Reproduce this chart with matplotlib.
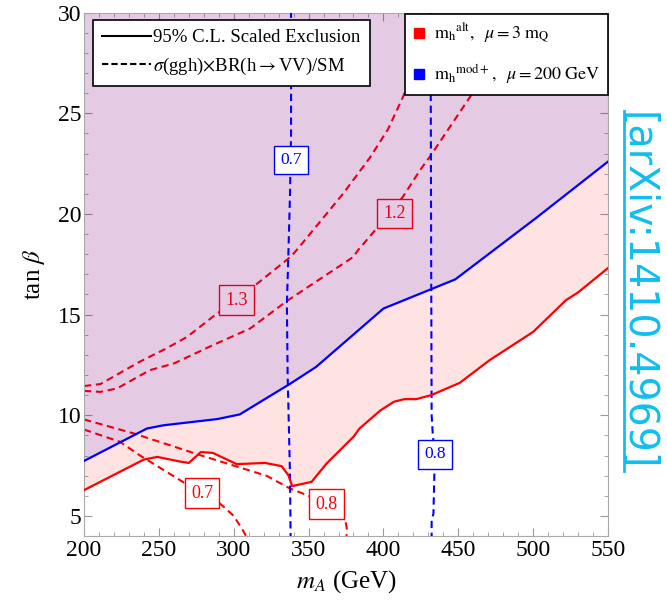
import numpy as np
import matplotlib
matplotlib.use('Agg')
import matplotlib.pyplot as plt
from matplotlib.lines import Line2D
from matplotlib.ticker import MultipleLocator

plt.rcParams['font.family'] = ['Liberation Serif', 'DejaVu Serif']
plt.rcParams['mathtext.fontset'] = 'stix'

# 95% C.L. scaled exclusion, m_h^mod+ (blue) and m_h^alt (red)
mod_excl_x = [200, 242, 253, 289, 304, 338, 355, 400, 448, 502, 550]
mod_excl_y = [7.73, 9.34, 9.5, 9.81, 10.04, 11.58, 12.4, 15.3, 16.75, 19.8, 22.6]

alt_excl_x = [200, 240, 249, 264, 270, 278, 286, 302, 321, 332, 336.5, 339, 352, 362,
              380, 384, 398, 407, 414, 422, 432, 451, 471, 500, 522, 530, 550]
alt_excl_y = [6.28, 7.8, 7.93, 7.7, 7.63, 8.17, 8.13, 7.57, 7.63, 7.47, 7.02, 6.48, 6.69, 7.6,
              8.93, 9.34, 10.24, 10.67, 10.8, 10.8, 11.0, 11.61, 12.74, 14.14, 15.72, 16.1, 17.31]

# sigma(ggh) x BR(h->VV)/SM contours, m_h^alt
alt_13_x = [200, 211, 237, 255, 269, 286, 313, 338, 342, 373, 391, 403, 413, 436]
alt_13_y = [11.45, 11.55, 12.65, 13.32, 13.9, 14.89, 16.38, 17.87, 18.2, 21.0, 22.8, 24.2, 25.8, 30.1]
alt_12_x = [200, 211, 222, 244, 260, 286, 311, 336, 380, 383, 395.5, 413, 424.5, 431, 458, 486]
alt_12_y = [11.21, 11.16, 11.33, 12.24, 12.57, 13.48, 14.31, 15.7, 17.87, 18.2, 19.28, 20.85, 22.18, 22.84, 25.83, 30.1]
alt_08_x = [200, 233, 277.5, 322, 337.6, 349, 362, 372, 374.5, 375.5, 375.3]
alt_08_y = [9.79, 9.1, 8.02, 6.99, 6.36, 6.03, 5.6, 5.1, 4.8, 4.4, 3.9]
alt_07_x = [200, 224, 237, 266, 279, 291, 300, 306, 309]
alt_07_y = [9.29, 8.68, 8.02, 6.69, 6.13, 5.6, 5.0, 4.3, 3.9]

# same contours, m_h^mod+
mod_07_x = [338.3, 338.3, 337.6, 336.5, 335.5, 336.0, 336.5, 337.6, 338.0]
mod_07_y = [30.1, 24, 21, 18, 15.5, 12, 10.5, 7, 3.9]
mod_08_x = [431.5, 431.8, 432.2, 433.0, 434.5, 434.0, 433.4, 432.2, 432.2]
mod_08_y = [30.1, 20, 10, 9, 8, 7, 5.1, 4.8, 3.9]

# contour labels: (x, y, text)
alt_labels = [(302, 15.72, '1.3'), (407.5, 20.03, '1.2'), (278.8, 6.13, '0.7'), (361.9, 5.59, '0.8')]
mod_labels = [(338.1, 22.7, '0.7'), (434.3, 8.05, '0.8')]

red = '#FF0000'
blue = '#0000FF'

fig = plt.figure(figsize=(6.67, 6.02), dpi=100)
ax = fig.add_axes([0.126, 0.1096, 0.7855, 0.8694])

dash = (3.5, 2.2)
box_kw = dict(boxstyle='square,pad=0.35', fc='white', lw=1)
for xs, ys in [(alt_13_x, alt_13_y), (alt_12_x, alt_12_y), (alt_08_x, alt_08_y), (alt_07_x, alt_07_y)]:
    ax.plot(xs, ys, color=red, lw=1.5, dashes=dash, zorder=1)
for x, y, s in alt_labels:
    ax.text(x, y, s, color=red, fontsize=13, ha='center', va='center', zorder=1.5,
            bbox=dict(box_kw, ec=red))

ax.fill_between(alt_excl_x, alt_excl_y, 30, color=red, alpha=0.115, lw=0, zorder=2)
ax.fill_between(mod_excl_x, mod_excl_y, 30, color=blue, alpha=0.1, lw=0, zorder=2.1)

for xs, ys in [(mod_07_x, mod_07_y), (mod_08_x, mod_08_y)]:
    ax.plot(xs, ys, color=blue, lw=1.5, dashes=dash, zorder=3)
for x, y, s in mod_labels:
    ax.text(x, y, s, color=blue, fontsize=12.5, ha='center', va='center', zorder=3.5,
            bbox=dict(box_kw, ec=blue))

ax.plot(alt_excl_x, alt_excl_y, color=red, lw=1.6, zorder=3)
ax.plot(mod_excl_x, mod_excl_y, color=blue, lw=1.6, zorder=3)

ax.set_xlim(200, 550)
ax.set_ylim(4, 30)
ax.xaxis.set_major_locator(MultipleLocator(50))
ax.xaxis.set_minor_locator(MultipleLocator(10))
ax.yaxis.set_major_locator(MultipleLocator(5))
ax.yaxis.set_minor_locator(MultipleLocator(1))
ax.tick_params(which='both', direction='in', top=True, right=True, color='#999999',
               labelsize=17, pad=3)
ax.tick_params(axis='y', pad=2)
ax.tick_params(which='major', length=6)
ax.tick_params(which='minor', length=3)
for sp in ax.spines.values():
    sp.set_color('#aaaaaa')

ax.set_xlabel(r'$m_A$ (GeV)', fontsize=18, labelpad=5)
ax.set_ylabel(r'tan $\beta$', fontsize=18, labelpad=8)

# legends
h1 = [Line2D([], [], color='black', lw=1.5),
      Line2D([], [], color='black', lw=1.5, dashes=(3, 1.5))]
leg1 = ax.legend(h1, ['95% C.L. Scaled Exclusion', r'$\sigma$(ggh)$\times$BR(h$\rightarrow$VV)/SM'],
                 loc='upper left', bbox_to_anchor=(0.0172, 0.986), borderaxespad=0,
                 fontsize=13.5, handlelength=2.6, handletextpad=0.1, labelspacing=0.5,
                 fancybox=False, edgecolor='black', framealpha=1, borderpad=0.5)
leg1.get_frame().set_linewidth(1.2)
leg1.set_zorder(5)
ax.add_artist(leg1)

h2 = [Line2D([], [], color=red, marker='s', ls='none', markersize=6.5),
      Line2D([], [], color=blue, marker='s', ls='none', markersize=6.5)]
leg2 = ax.legend(h2, [r'$\mathrm{m_h}^{\mathrm{alt}},\;\ \mu = 3\ \mathrm{m_Q}$',
                      r'$\mathrm{m_h}^{\mathrm{mod+}},\;\ \mu = 200\ \mathrm{GeV}$'],
                 loc='upper right', bbox_to_anchor=(1.0, 0.997), borderaxespad=0,
                 fontsize=13, handlelength=0.7, handletextpad=0.45, labelspacing=0.95,
                 fancybox=False, edgecolor='black', framealpha=1, borderpad=0.45)
leg2.get_frame().set_linewidth(1.2)
leg2.set_zorder(5)

# arXiv stamp on the right
cyan = '#10BEF0'
fig.text(626 / 667, 1 - 291 / 602, '[arXiv:1410.4969]', color=cyan, fontsize=28.5,
         family='DejaVu Sans', rotation=-90, rotation_mode='anchor', ha='center', va='baseline')
fig.add_artist(Line2D([623.5 / 667, 623.5 / 667], [1 - 111 / 602, 1 - 471 / 602],
                      color=cyan, lw=2, transform=fig.transFigure))

fig.savefig('out.png', dpi=100)
